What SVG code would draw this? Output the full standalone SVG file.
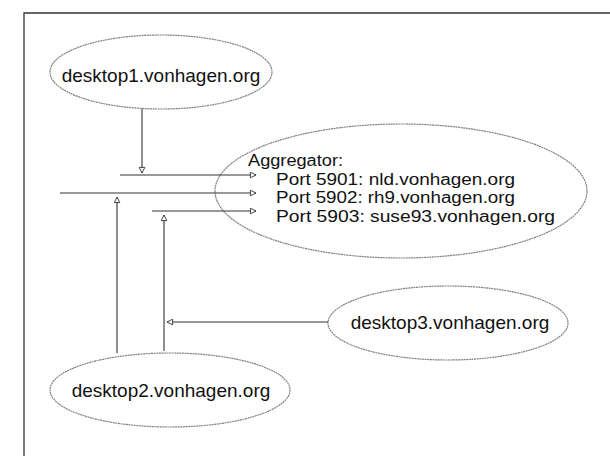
<svg xmlns="http://www.w3.org/2000/svg" width="610" height="456" viewBox="0 0 610 456">
<style>
.node ellipse{fill:none;stroke:#808080;stroke-width:1.2;stroke-dasharray:2 0.6}
text{font-family:"Liberation Sans",Arial,sans-serif;font-size:19px;fill:#111}
.agg{font-size:16px}
.conn line{stroke:#333;stroke-width:1.1}
.frame{stroke:#333;stroke-width:1.3;fill:none}
</style>
<defs>
<marker id="ah" viewBox="0 0 10 10" refX="9" refY="5" markerWidth="8" markerHeight="7" markerUnits="userSpaceOnUse" orient="auto">
<path d="M1,1 L9,5 L1,9 Z" fill="#fff" stroke="#333" stroke-width="1.3"/>
</marker>
</defs>
<rect width="610" height="456" fill="#fff"/>
<path class="frame" d="M24,456 V13 H610"/>
<g id="desktop1" class="node">
<ellipse cx="161" cy="72" rx="111" ry="37"/>
<text x="161" y="82" text-anchor="middle">desktop1.vonhagen.org</text>
</g>
<g id="aggregator" class="node">
<ellipse cx="401" cy="191" rx="186" ry="67"/>
<text class="agg" x="248" y="166" textLength="95" lengthAdjust="spacingAndGlyphs">Aggregator:</text>
<text class="agg" x="276" y="184.5" textLength="239" lengthAdjust="spacingAndGlyphs">Port 5901: nld.vonhagen.org</text>
<text class="agg" x="276" y="203" textLength="239" lengthAdjust="spacingAndGlyphs">Port 5902: rh9.vonhagen.org</text>
<text class="agg" x="276" y="221.5" textLength="279" lengthAdjust="spacingAndGlyphs">Port 5903: suse93.vonhagen.org</text>
</g>
<g id="desktop2" class="node">
<ellipse cx="170" cy="390" rx="120" ry="37"/>
<text x="171" y="397" text-anchor="middle">desktop2.vonhagen.org</text>
</g>
<g id="desktop3" class="node">
<ellipse cx="448" cy="323" rx="120" ry="37"/>
<text x="450" y="329" text-anchor="middle">desktop3.vonhagen.org</text>
</g>
<g id="connectors" class="conn">
<line x1="142" y1="109" x2="142" y2="173" marker-end="url(#ah)"/>
<line x1="120" y1="175" x2="256" y2="175" marker-end="url(#ah)"/>
<line x1="60" y1="193" x2="256" y2="193" marker-end="url(#ah)"/>
<line x1="152" y1="211" x2="256" y2="211" marker-end="url(#ah)"/>
<line x1="117" y1="353" x2="117" y2="197" marker-end="url(#ah)"/>
<line x1="164" y1="351" x2="164" y2="215" marker-end="url(#ah)"/>
<line x1="328" y1="322" x2="167" y2="322" marker-end="url(#ah)"/>
</g>
</svg>
